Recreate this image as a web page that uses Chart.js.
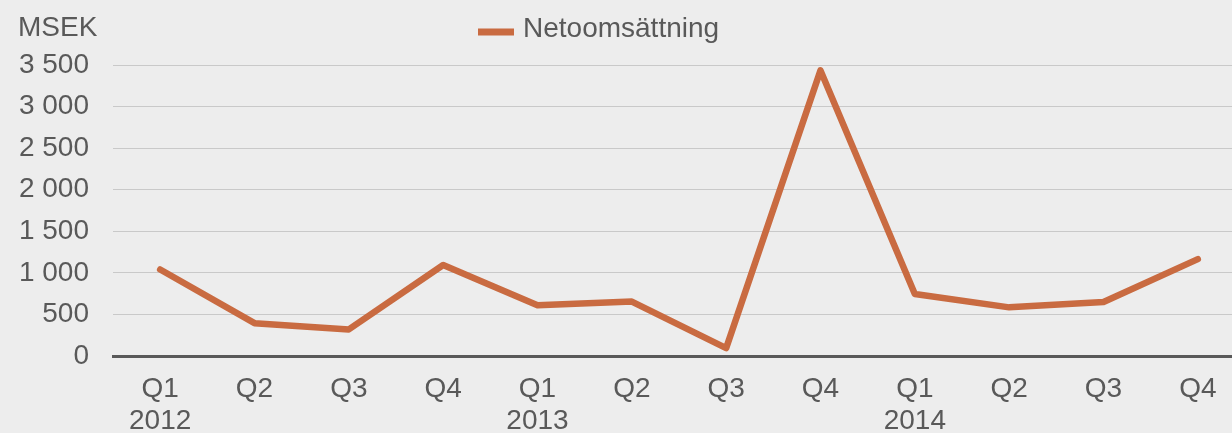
<!DOCTYPE html>
<html>
<head>
<meta charset="utf-8">
<script src="https://cdn.jsdelivr.net/npm/chart.js@4/dist/chart.umd.min.js"></script>
<style>
  html, body { margin: 0; padding: 0; background: #ededed; overflow: hidden; }
  #wrap { width: 1245px; height: 433px; }
</style>
</head>
<body>
<div id="wrap"><canvas id="c" width="1245" height="433"></canvas></div>
<script>
const quarters = ['Q1','Q2','Q3','Q4','Q1','Q2','Q3','Q4','Q1','Q2','Q3','Q4'];
const years    = ['2012','','','','2013','','','','2014','','',''];
const netoomsattning = [1040, 395, 320, 1095, 610, 655, 95, 3435, 745, 585, 650, 1165];
const seriesName = 'Netoomsättning';
const unitLabel = 'MSEK';
const yTicks = [0, 500, 1000, 1500, 2000, 2500, 3000, 3500];

const labels = quarters.map((q, i) => years[i] ? [q, years[i]] : q);
const FONT = '"Liberation Sans", Arial, sans-serif';
const TEXT = '#595959';
const LINE = '#c96b41';
const FS = 28;

const overlay = {
  id: 'overlay',
  afterDraw(chart) {
    const ctx = chart.ctx;
    ctx.save();
    ctx.fillStyle = TEXT;
    ctx.font = FS + 'px ' + FONT;
    ctx.textBaseline = 'middle';
    ctx.textAlign = 'left';
    ctx.fillText(unitLabel, 18, 28);
    // legend
    const ds = chart.data.datasets[0];
    ctx.fillStyle = ds.borderColor;
    ctx.fillRect(478, 28.5, 36, 7);
    ctx.fillStyle = TEXT;
    ctx.fillText(ds.label, 523, 29);
    ctx.restore();
  }
};

new Chart(document.getElementById('c'), {
  type: 'line',
  data: {
    labels: labels,
    datasets: [{
      label: seriesName,
      data: netoomsattning,
      borderColor: LINE,
      backgroundColor: LINE,
      borderWidth: 6.5,
      borderCapStyle: 'round',
      borderJoinStyle: 'round',
      pointRadius: 0,
      tension: 0,
      fill: false
    }]
  },
  options: {
    responsive: false,
    animation: false,
    layout: { padding: { top: 65, left: 0, right: 0, bottom: 0 } },
    plugins: { legend: { display: false }, title: { display: false }, tooltip: { enabled: false } },
    scales: {
      x: {
        offset: true,
        grid: { display: false, drawTicks: false },
        border: { display: true, color: '#595959', width: 3 },
        ticks: {
          color: TEXT,
          font: { family: FONT, size: FS, lineHeight: 1.15 },
          padding: 17,
          maxRotation: 0,
          autoSkip: false
        },
        afterFit(scale) { scale.height = 77; }
      },
      y: {
        min: 0,
        max: 3500,
        afterBuildTicks(scale) { scale.ticks = yTicks.map(v => ({ value: v })); },
        grid: { color: '#c9c9c9', lineWidth: 1, drawTicks: false },
        border: { display: false },
        ticks: {
          color: TEXT,
          font: { family: FONT, size: FS },
          padding: 24,
          callback: v => String(v).replace(/\B(?=(\d{3})+(?!\d))/g, ' ')
        },
        afterFit(scale) { scale.width = 113; }
      }
    }
  },
  plugins: [overlay]
});
</script>
</body>
</html>
